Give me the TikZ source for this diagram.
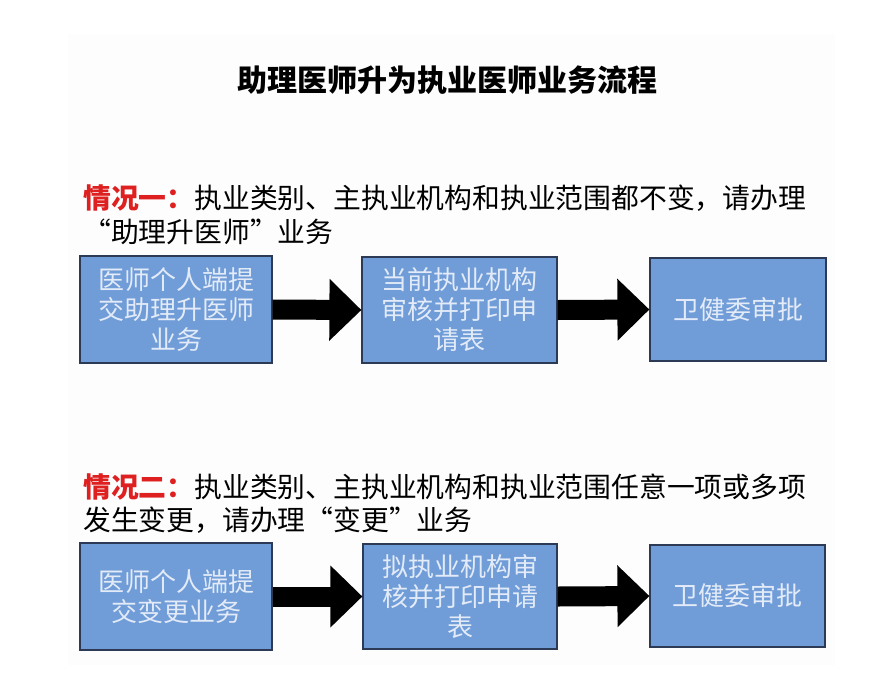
\documentclass[tikz,border=0pt]{standalone}
\usepackage{fontspec}
\newfontfamily\cjk{Noto Sans CJK SC}
\usetikzlibrary{arrows.meta}
\definecolor{boxblue}{RGB}{112,156,216}
\definecolor{boxtext}{RGB}{226,235,247}
\definecolor{boxline}{RGB}{45,58,85}
\definecolor{redlab}{RGB}{222,32,32}
\definecolor{panel}{RGB}{253,253,253}
\begin{document}
\begin{tikzpicture}[x=1pt,y=-1pt,
  stepbox/.style={draw=boxline, line width=1.2pt, fill=boxblue, text=boxtext,
    align=center, font=\cjk\fontsize{26}{30}\selectfont, inner sep=0pt},
  bigarrow/.style={draw=black, line width=20pt, -{Triangle[length=32pt,width=60pt]}},
  desc/.style={anchor=west, font=\cjk\fontsize{27.8}{34}\selectfont, inner sep=0pt}]
\useasboundingbox (0,0) rectangle (893,696);
\fill[white] (0,0) rectangle (893,696);
\fill[panel] (68,34) rectangle (835,665);

\node[font=\cjk\bfseries\fontsize{30}{36}\selectfont] (title) at (447,80) {助理医师升为执业医师业务流程};

\node[desc] (d1a) at (83,198) {\textcolor{redlab}{\bfseries 情况一：}执业类别、主执业机构和执业范围都不变，请办理};
\node[desc] (d1b) at (83,232) {“助理升医师”业务};

\node[stepbox, minimum width=192pt, minimum height=107pt] (a1) at (176,309.5) {医师个人端提\\交助理升医师\\业务};
\node[stepbox, minimum width=195pt, minimum height=106pt] (b1) at (459.5,310) {当前执业机构\\审核并打印申\\请表};
\node[stepbox, minimum width=176pt, minimum height=103pt] (c1) at (738,309.5) {卫健委审批};
\draw[bigarrow] (a1.east) -- (b1.west);
\draw[bigarrow] (b1.east) -- (c1.west);

\node[desc] (d2a) at (83,487) {\textcolor{redlab}{\bfseries 情况二：}执业类别、主执业机构和执业范围任意一项或多项};
\node[desc] (d2b) at (83,520) {发生变更，请办理“变更”业务};

\node[stepbox, minimum width=192pt, minimum height=107pt] (a2) at (176,596.5) {医师个人端提\\交变更业务};
\node[stepbox, minimum width=194pt, minimum height=105pt] (b2) at (460,596.5) {拟执业机构审\\核并打印申请\\表};
\node[stepbox, minimum width=175pt, minimum height=102pt] (c2) at (737.5,596) {卫健委审批};
\draw[bigarrow] (a2.east) -- (b2.west);
\draw[bigarrow] (b2.east) -- (c2.west);
\end{tikzpicture}
\end{document}
